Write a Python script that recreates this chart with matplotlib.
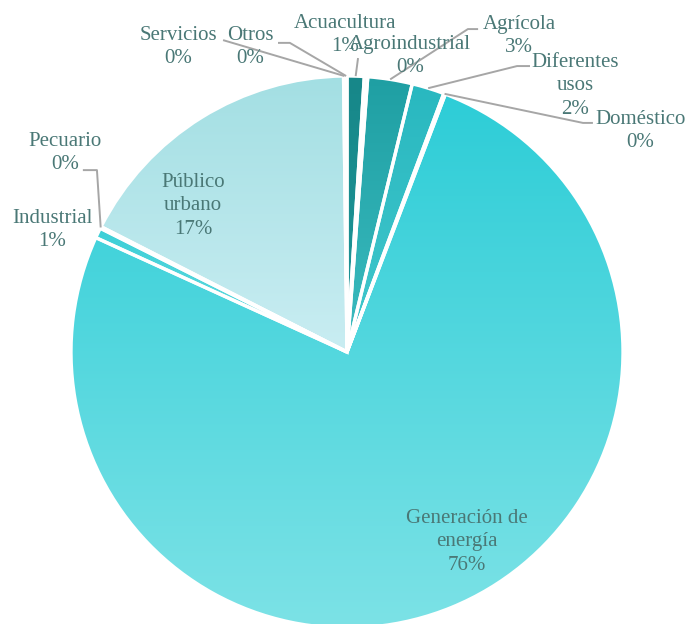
import numpy as np
import matplotlib
matplotlib.use("Agg")
import matplotlib.pyplot as plt
from matplotlib.colors import LinearSegmentedColormap

plt.rcParams['font.family'] = ['Liberation Serif', 'DejaVu Serif']

# datos (porcentaje del volumen concesionado), en sentido horario desde arriba
sectores = ['Acuacultura', 'Agroindustrial', 'Agrícola', 'Diferentes\nusos', 'Doméstico',
            'Generación de\nenergía', 'Industrial', 'Pecuario', 'Público\nurbano',
            'Servicios', 'Otros']
valores = [1.0, 0.2, 2.6, 1.9, 0.1, 76.0, 0.6, 0.1, 17.3, 0.1, 0.1]

# degradado vertical (arriba, abajo) de cada sector
colores = [('#178789', '#1f9799'), ('#1c9597', '#22a0a3'), ('#1f9fa3', '#3bbcc0'),
           ('#29b8c0', '#42c7cc'), ('#2cc6ce', '#2cc6ce'), ('#2dcdd7', '#7ce2e6'),
           ('#3ccfd7', '#6ddde2'), ('#8fd9df', '#8fd9df'), ('#a3dfe3', '#c9edf2'),
           ('#b6e5ea', '#b6e5ea'), ('#b6e5ea', '#b6e5ea')]

# posición de cada etiqueta y codo de su línea guía (None = sin línea)
etiquetas_pos = [(-0.007, 1.149), (0.228, 1.072), (0.623, 1.145), (0.826, 0.964),
                 (1.062, 0.800), (0.435, -0.688), (-1.069, 0.442), (-1.022, 0.721),
                 (-0.558, 0.529), (-0.612, 1.105), (-0.351, 1.105)]
guias = [[(0.040, 1.065)], None, [(0.475, 1.170), (0.438, 1.170)],
         [(0.663, 1.036), (0.616, 1.036)], [(0.891, 0.830), (0.855, 0.830)],
         None, None, [(-0.957, 0.659), (-0.906, 0.659)], None,
         [(-0.449, 1.130)], [(-0.250, 1.120), (-0.207, 1.120)]]

color_texto = '#4a7876'
color_guia = '#a6a6a6'

fig = plt.figure(figsize=(6.87, 6.24), dpi=100)
ax = fig.add_axes([0, 0, 1, 1])

wedges, _ = ax.pie(valores, startangle=90, counterclock=False, radius=1,
                   wedgeprops=dict(facecolor='none', edgecolor='white', linewidth=2.4, zorder=3))

grad = np.linspace(0, 1, 256)[:, None]
for w, (c0, c1) in zip(wedges, colores):
    ext = w.get_path().get_extents()
    cmap = LinearSegmentedColormap.from_list('g', [c0, c1])
    im = ax.imshow(grad, cmap=cmap, extent=(ext.x0, ext.x1, ext.y0, ext.y1),
                   origin='upper', aspect='auto', zorder=2, interpolation='bilinear')
    im.set_clip_path(w)

total = sum(valores)
for w, nombre, v, pos, guia in zip(wedges, sectores, valores, etiquetas_pos, guias):
    pct = int(v / total * 100 + 0.5)
    ax.text(pos[0], pos[1], f'{nombre}\n{pct}%', ha='center', va='center',
            fontsize=15, color=color_texto, linespacing=1.3, zorder=5)
    if guia:
        ang = np.deg2rad((w.theta1 + w.theta2) / 2)
        borde = (np.cos(ang), np.sin(ang))
        xs = [p[0] for p in guia] + [borde[0]]
        ys = [p[1] for p in guia] + [borde[1]]
        ax.plot(xs, ys, color=color_guia, lw=1.4, zorder=4, solid_capstyle='butt')

ax.set_xlim(-347 / 276, 340 / 276)
ax.set_ylim(-272 / 276, 352 / 276)
ax.set_aspect('equal')
ax.axis('off')

fig.savefig('out.png', dpi=100, facecolor='white')
